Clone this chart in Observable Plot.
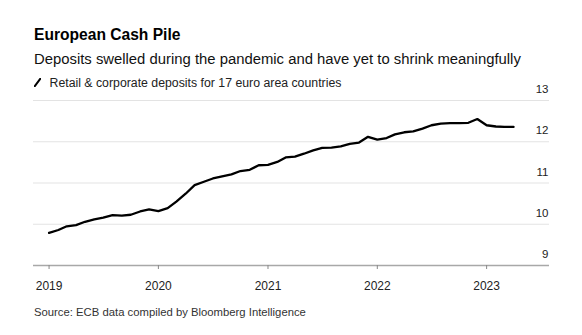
<!DOCTYPE html>
<html>
<head>
<meta charset="utf-8">
<script src="https://cdn.jsdelivr.net/npm/d3@7"></script>
<script src="https://cdn.jsdelivr.net/npm/@observablehq/plot@0.6"></script>
<style>
  html, body { margin: 0; padding: 0; background: #fff; }
  body { width: 582px; height: 335px; position: relative; overflow: hidden; font-family: "Liberation Sans", Arial, sans-serif; }
  .abs { position: absolute; white-space: nowrap; }
  #title { left: 34px; top: 27.3px; font-size: 15.6px; line-height: 15.6px; font-weight: bold; color: #000; }
  #subtitle { left: 34px; top: 52px; font-size: 14.85px; line-height: 14.85px; color: #111; }
  #legend { left: 34px; top: 76.5px; font-size: 12.3px; line-height: 12.3px; color: #222; }
  #legend svg { vertical-align: baseline; margin-right: 8.5px; }
  #chart { left: 0; top: 84px; }
  #caption { left: 34px; top: 307px; font-size: 11.3px; line-height: 11.3px; color: #333; }
</style>
</head>
<body>
<div id="title" class="abs">European Cash Pile</div>
<div id="subtitle" class="abs">Deposits swelled during the pandemic and have yet to shrink meaningfully</div>
<div id="legend" class="abs"><svg width="7" height="9" viewBox="0 0 7 9"><line x1="0.8" y1="8.2" x2="6.2" y2="0.8" stroke="#000" stroke-width="2" stroke-linecap="round"/></svg>Retail &amp; corporate deposits for 17 euro area countries</div>
<div id="chart" class="abs"></div>
<div id="caption" class="abs">Source: ECB data compiled by Bloomberg Intelligence</div>
<script>
const months = [
  "2019-01","2019-02","2019-03","2019-04","2019-05","2019-06","2019-07","2019-08","2019-09","2019-10","2019-11","2019-12",
  "2020-01","2020-02","2020-03","2020-04","2020-05","2020-06","2020-07","2020-08","2020-09","2020-10","2020-11","2020-12",
  "2021-01","2021-02","2021-03","2021-04","2021-05","2021-06","2021-07","2021-08","2021-09","2021-10","2021-11","2021-12",
  "2022-01","2022-02","2022-03","2022-04","2022-05","2022-06","2022-07","2022-08","2022-09","2022-10","2022-11","2022-12",
  "2023-01","2023-02","2023-03","2023-04"
];
const deposits = [
  9.79, 9.86, 9.95, 9.98, 10.06, 10.12, 10.16, 10.22, 10.21, 10.23, 10.31, 10.36,
  10.32, 10.39, 10.55, 10.74, 10.95, 11.03, 11.11, 11.16, 11.21, 11.29, 11.32, 11.43,
  11.44, 11.51, 11.62, 11.64, 11.71, 11.79, 11.85, 11.86, 11.89, 11.95, 11.98, 12.12,
  12.05, 12.09, 12.18, 12.23, 12.25, 12.32, 12.40, 12.44, 12.45, 12.45, 12.46, 12.55,
  12.40, 12.37, 12.36, 12.36
];
const yTicks = [9, 10, 11, 12, 13];
const xTickYears = ["2019", "2020", "2021", "2022", "2023"];

const data = months.map((m, i) => ({date: new Date(m + "-01T00:00:00Z"), value: deposits[i]}));
const xTicks = xTickYears.map(y => new Date(y + "-01-01T00:00:00Z"));

const chart = Plot.plot({
  width: 582,
  height: 211,
  marginTop: 16,
  marginBottom: 30,
  marginLeft: 33,
  marginRight: 33,
  style: {fontFamily: "Liberation Sans, Arial, sans-serif", background: "transparent"},
  x: {type: "utc", domain: [new Date("2018-11-10T00:00:00Z"), new Date("2023-07-30T00:00:00Z")]},
  y: {domain: [9, 13]},
  marks: [
    Plot.gridY(yTicks.filter(d => d !== 9), {stroke: "#e3e3e3", strokeOpacity: 1, strokeWidth: 1}),
    Plot.ruleY([9], {stroke: "#a8a8a8", strokeWidth: 1.5}),
    Plot.axisY(yTicks, {anchor: "right", tickSize: 0, tickPadding: 0, textAnchor: "end", dx: -1, dy: -11, fontSize: 11.5, fill: "#222", label: null}),
    Plot.axisX(xTicks, {tickSize: 4, tickPadding: 11.5, stroke: "#888", fontSize: 12, fill: "#222", tickFormat: d3.utcFormat("%Y"), label: null}),
    Plot.line(data, {x: "date", y: "value", stroke: "#000", strokeWidth: 2.3, strokeLinejoin: "round", strokeLinecap: "round"})
  ]
});
document.getElementById("chart").appendChild(chart);
</script>
</body>
</html>
